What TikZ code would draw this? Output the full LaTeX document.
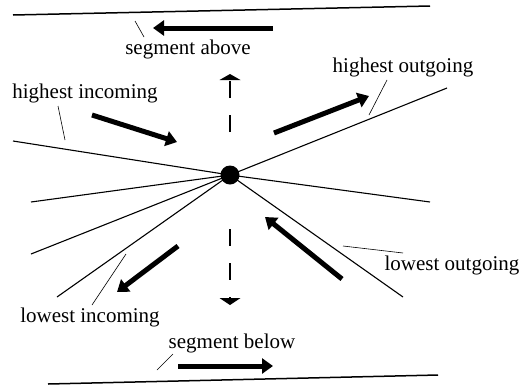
\documentclass[tikz,border=0pt]{standalone}
\usepackage{fontspec}
\setmainfont{Liberation Serif}
\usetikzlibrary{arrows.meta}
\begin{document}
\begin{tikzpicture}[x=1pt,y=-1pt,
  thinline/.style={line width=1.1pt},
  seg/.style={line width=1.5pt},
  tickline/.style={line width=0.6pt},
  bigarrow/.style={line width=5pt,-{Triangle[length=11pt,width=15pt]}},
  lbl/.style={font=\fontsize{21}{24}\selectfont, inner sep=0pt},
  vdash/.style={line width=1.1pt,dash pattern=on 17pt off 17pt}]
\useasboundingbox (0,0) rectangle (521,386);
% segments
\coordinate (t1) at (13,15); \coordinate (t2) at (430,6);
\coordinate (b1) at (48,384); \coordinate (b2) at (438,375);
\draw[seg] (t1) -- (t2);
\draw[seg] (b1) -- (b2);
% lines through the vertex
\coordinate (o) at (230,175);
\coordinate (l1) at (13,141);
\coordinate (l2) at (31,202);
\coordinate (l3) at (31,254);
\coordinate (l4) at (57,297);
\coordinate (r1) at (430,202);
\coordinate (r2) at (447,88);
\coordinate (r3) at (403,297);
\foreach \p in {l1,l2,l3,l4,r1,r2,r3} \draw[thinline] (\p) -- (o);
\node[circle,fill,inner sep=0pt,minimum size=19pt] (c) at (o) {};
% dashed vertical arrows
\coordinate (u0) at (230,132); \coordinate (u1) at (230,80); \coordinate (ut) at (230,74);
\coordinate (d0) at (230,229); \coordinate (d1) at (230,298); \coordinate (dt) at (230,305);
\draw[vdash] (u0) -- (u1);
\fill ([xshift=-10.5pt]u1) -- (ut) -- ([xshift=10.5pt]u1) -- cycle;
\draw[vdash] (d0) -- (d1);
\fill ([xshift=-10.5pt]d1) -- (dt) -- ([xshift=10.5pt]d1) -- cycle;
% thick arrows
\coordinate (sa0) at (273,28); \coordinate (sa1) at (153,28);
\coordinate (hi0) at (92,115); \coordinate (hi1) at (177,142);
\coordinate (ho0) at (274,133); \coordinate (ho1) at (369,96);
\coordinate (lo0) at (342,279); \coordinate (lo1) at (265,217);
\coordinate (li0) at (178,246); \coordinate (li1) at (117,292);
\coordinate (sb0) at (178,366); \coordinate (sb1) at (273,366);
\draw[bigarrow] (sa0) -- (sa1);
\draw[bigarrow] (hi0) -- (hi1);
\draw[bigarrow] (ho0) -- (ho1);
\draw[bigarrow] (lo0) -- (lo1);
\draw[bigarrow] (li0) -- (li1);
\draw[bigarrow] (sb0) -- (sb1);
% labels
\node[lbl] (tsa) at (188,49) {segment above};
\node[lbl] (thi) at (85,93) {highest incoming};
\node[lbl] (tho) at (403,67) {highest outgoing};
\node[lbl] (tlo) at (452,265) {lowest outgoing};
\node[lbl] (tli) at (90,317) {lowest incoming};
\node[lbl] (tsb) at (232,343) {segment below};
% leader ticks
\coordinate (k1a) at (135,21); \coordinate (k1b) at (144,37);
\coordinate (k2a) at (58,106); \coordinate (k2b) at (65,140);
\coordinate (k3a) at (387,80); \coordinate (k3b) at (369,115);
\coordinate (k4a) at (343,246); \coordinate (k4b) at (403,253);
\coordinate (k5a) at (92,305); \coordinate (k5b) at (126,254);
\coordinate (k6a) at (173,354); \coordinate (k6b) at (157,370);
\draw[tickline] (k1a) -- (k1b);
\draw[tickline] (k2a) -- (k2b);
\draw[tickline] (k3a) -- (k3b);
\draw[tickline] (k4a) -- (k4b);
\draw[tickline] (k5a) -- (k5b);
\draw[tickline] (k6a) -- (k6b);
\end{tikzpicture}
\end{document}
